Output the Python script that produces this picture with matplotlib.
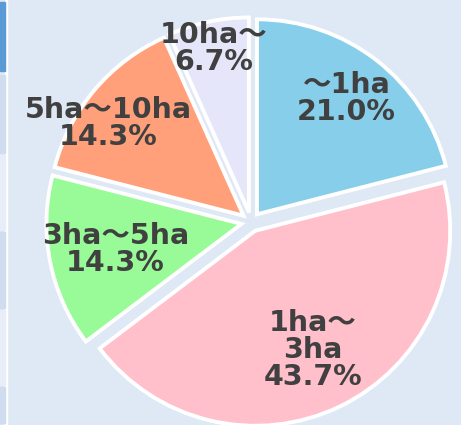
import numpy as np
import matplotlib.pyplot as plt
from matplotlib.patches import Rectangle

plt.rcParams['font.family'] = ['DejaVu Sans', 'Noto Sans CJK JP']

# データ
categories = ["〜1ha", "1ha〜\n3ha", "3ha〜5ha", "5ha〜10ha", "10ha〜"]
shares = [21.0, 43.7, 14.3, 14.3, 6.7]
colors = ["#87CEEB", "#FFC0CB", "#98FB98", "#FFA07A", "#E6E6FA"]

# ラベル位置（半径に対する比率）
label_r = [0.75, 0.68, 0.66, 0.84, 0.86]
label_shift = [0, 0, 0, 6, 0]

W, H = 461, 425
R = 195.0
cx, cy = 251, 222

fig = plt.figure(figsize=(W / 100, H / 100), dpi=100)
fig.patch.set_facecolor("#dee9f5")
ax = fig.add_axes([0, 0, 1, 1])
ax.set_facecolor("#dee9f5")

wedges, _ = ax.pie(shares, colors=colors, startangle=90, counterclock=False,
                   radius=1.0, explode=[0.05] * len(shares),
                   wedgeprops=dict(edgecolor="white", linewidth=2.8))

ax.set_xlim(-cx / R, (W - cx) / R)
ax.set_ylim(-(H - cy) / R, cy / R)
ax.set_aspect("equal")
ax.axis("off")

for w, cat, val, r, sh in zip(wedges, categories, shares, label_r, label_shift):
    th = np.deg2rad((w.theta1 + w.theta2) / 2 + sh)
    x0, y0 = w.center
    ax.text(x0 + r * np.cos(th), y0 + r * np.sin(th), f"{cat}\n{val:.1f}%",
            ha="center", va="center", fontsize=20.5, fontweight="bold",
            color="#404040", linespacing=0.95)

# 左端の表の一部
ax_l = fig.add_axes([0, 0, 1, 1], zorder=-1)
ax_l.set_xlim(0, W)
ax_l.set_ylim(H, 0)
ax_l.axis("off")
ax_l.add_patch(Rectangle((5, 0), 2, H, color="white"))
bands = [(2, 73, "#5b9bd5"), (75, 155, "#d0dcef"), (155, 232, "#e8edf7"),
         (232, 310, "#d0dcef"), (310, 387, "#e8edf7"), (387, 425, "#d0dcef")]
for y0, y1, c in bands:
    ax_l.add_patch(Rectangle((0, y0), 5, y1 - y0 - 2, color=c))

fig.savefig("out.png", dpi=100, facecolor=fig.get_facecolor())
